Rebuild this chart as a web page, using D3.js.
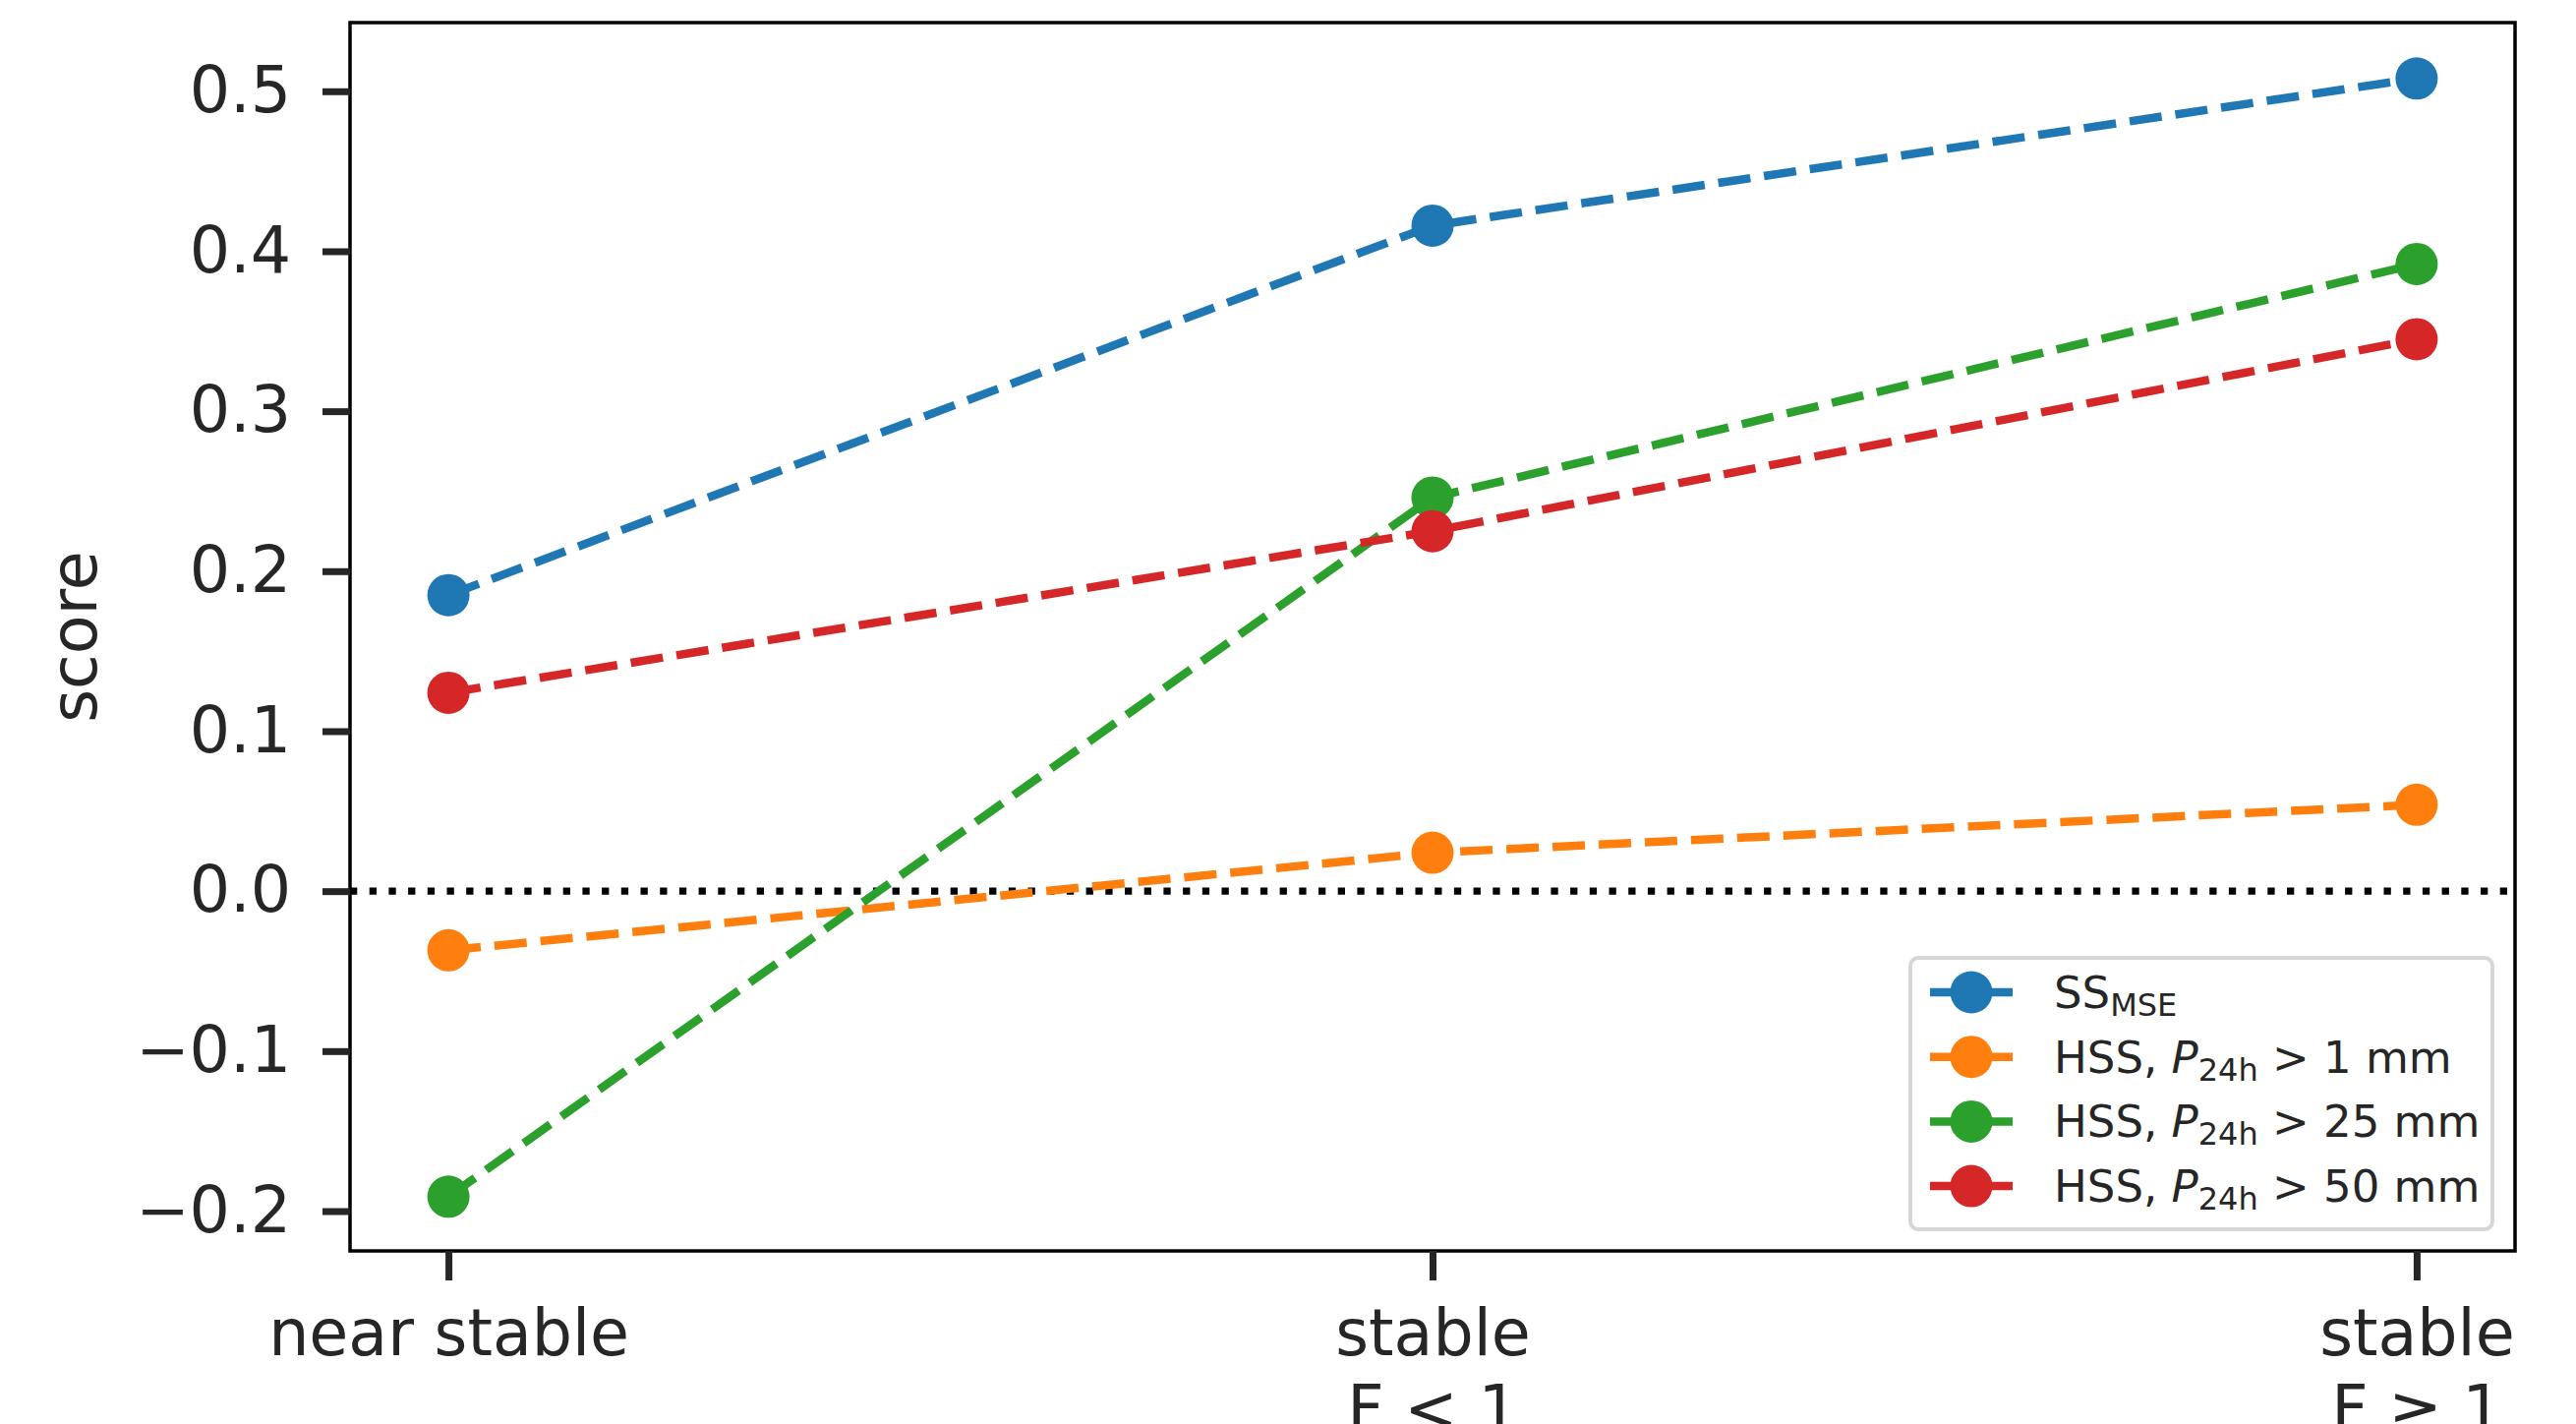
<!DOCTYPE html>
<html>
<head>
<meta charset="utf-8">
<script src="https://cdn.jsdelivr.net/npm/d3@7"></script>
<style>
  body { margin: 0; background: #fff; }
  text { font-family: "DejaVu Sans", sans-serif; fill: #262626; }
</style>
</head>
<body>
<script>
// svg size + plot box
var w = 2620, h = 1448;
var plotL = 356, plotR = 2558, plotT = 23, plotB = 1272;

// data
var categories = ["near stable", "stable\nF < 1", "stable\nF \u2265 1"];
var yTicks = [-0.2, -0.1, 0.0, 0.1, 0.2, 0.3, 0.4, 0.5];
var ssMse = [0.185, 0.416, 0.508];
var hss1 = [-0.037, 0.024, 0.054];
var hss25 = [-0.191, 0.246, 0.392];
var hss50 = [0.124, 0.225, 0.345];
var seriesNames = ["SS_MSE", "1", "25", "50"];
var colors = ["#1f77b4", "#ff7f0e", "#2ca02c", "#d62728"];

var series = [ssMse, hss1, hss25, hss50].map(function(v, i){
    return { name: seriesNames[i], values: v, color: colors[i] };
});

var svg = d3.select("body").append("svg")
    .attr("width", w)
    .attr("height", h);

var x = d3.scalePoint()
    .domain(categories)
    .range([plotL, plotR])
    .padding(0.1);

var y = d3.scaleLinear()
    .domain([-0.2249, 0.5429])
    .range([plotB, plotT]);

// zero line (dotted)
svg.append("line")
    .attr("x1", plotL).attr("x2", plotR)
    .attr("y1", y(0)).attr("y2", y(0))
    .attr("stroke", "#000")
    .attr("stroke-width", 7.3)
    .attr("stroke-dasharray", "7.3,12.4");

var line = d3.line()
    .x(function(d, i){ return x(categories[i]); })
    .y(function(d){ return y(d); });

var g = svg.selectAll(".series")
    .data(series)
    .enter()
    .append("g")
    .attr("class", "series");

g.append("path")
    .attr("d", function(d){ return line(d.values); })
    .attr("fill", "none")
    .attr("stroke", function(d){ return d.color; })
    .attr("stroke-width", 8.5)
    .attr("stroke-dasharray", "33,14");

g.selectAll("circle")
    .data(function(d){ return d.values.map(function(v, i){ return { v: v, i: i, c: d.color }; }); })
    .enter()
    .append("circle")
    .attr("cx", function(d){ return x(categories[d.i]); })
    .attr("cy", function(d){ return y(d.v); })
    .attr("r", 21.5)
    .attr("fill", function(d){ return d.c; });

// frame
svg.append("rect")
    .attr("x", plotL).attr("y", plotT)
    .attr("width", plotR - plotL).attr("height", plotB - plotT)
    .attr("fill", "none")
    .attr("stroke", "#000")
    .attr("stroke-width", 3.5);

// y axis
var yAxis = d3.axisLeft(y)
    .tickValues(yTicks)
    .tickSize(28)
    .tickPadding(32)
    .tickFormat(d3.format(".1f"));
var yg = svg.append("g")
    .attr("transform", "translate(" + plotL + ",0)")
    .call(yAxis);
yg.select(".domain").remove();
yg.selectAll(".tick line").attr("stroke", "#262626").attr("stroke-width", 7);
yg.selectAll(".tick text")
    .attr("font-size", 65)
    .attr("font-family", "DejaVu Sans")
    .attr("fill", "#262626");

// x axis
var xAxis = d3.axisBottom(x).tickSize(30).tickFormat("");
var xg = svg.append("g")
    .attr("transform", "translate(0," + plotB + ")")
    .call(xAxis);
xg.select(".domain").remove();
xg.selectAll(".tick line").attr("stroke", "#262626").attr("stroke-width", 7);
xg.selectAll(".tick").append("text")
    .attr("text-anchor", "middle")
    .attr("font-size", 65)
    .attr("fill", "#262626")
    .each(function(d){
        var lines = d.split("\n");
        var t = d3.select(this);
        lines.forEach(function(s, k){
            t.append("tspan")
                .attr("x", 0)
                .attr("y", 106 + k * 77)
                .text(s);
        });
    });

// y label
svg.append("text")
    .attr("transform", "translate(98," + ((plotT + plotB) / 2) + ") rotate(-90)")
    .attr("text-anchor", "middle")
    .attr("font-size", 65)
    .text("score");

// legend
var lg = svg.append("g").attr("transform", "translate(1943,974)");
lg.append("rect")
    .attr("width", 592).attr("height", 276)
    .attr("rx", 8)
    .attr("fill", "#fff").attr("fill-opacity", 0.8)
    .attr("stroke", "#d6d6d6").attr("stroke-width", 4);

var rows = lg.selectAll(".lrow")
    .data(series)
    .enter()
    .append("g")
    .attr("class", "lrow")
    .attr("transform", function(d, i){ return "translate(0," + (35 + i * 65.7) + ")"; });

rows.append("line")
    .attr("x1", 20).attr("x2", 104)
    .attr("stroke", function(d){ return d.color; })
    .attr("stroke-width", 8.5);
rows.append("circle")
    .attr("cx", 62).attr("r", 21.5)
    .attr("fill", function(d){ return d.color; });

rows.append("text")
    .attr("x", 146)
    .attr("y", 16)
    .attr("font-size", 45)
    .each(function(d){
        var t = d3.select(this);
        if (d.name === "SS_MSE") {
            t.append("tspan").text("SS");
            t.append("tspan").attr("font-size", 32).attr("dy", 8).text("MSE");
        } else {
            t.append("tspan").text("HSS, ");
            t.append("tspan").attr("font-style", "italic").text("P");
            t.append("tspan").attr("font-size", 32).attr("dy", 8).text("24h");
            t.append("tspan").attr("dy", -8).text(" > " + d.name + " mm");
        }
    });
</script>
</body>
</html>
